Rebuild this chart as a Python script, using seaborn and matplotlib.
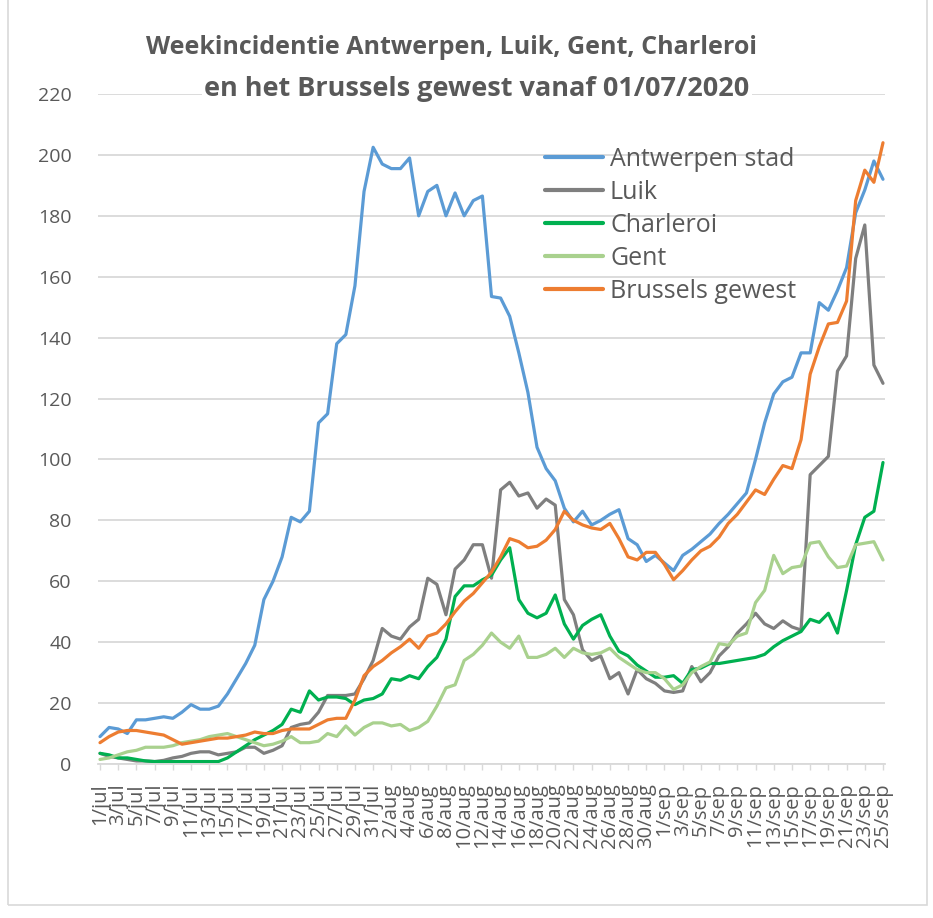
import pandas as pd
import matplotlib
matplotlib.use("Agg")
import matplotlib.pyplot as plt
import matplotlib.patches as mpatches
import seaborn as sns

# Weekincidentie per dag, 1/jul t/m 25/sep 2020 (87 dagen)
antwerpen = [9, 12, 11.5, 10, 14.5, 14.5, 15, 15.5, 15, 17,
             19.5, 18, 18, 19, 23, 28, 33, 39, 54, 60,
             68, 81, 79.5, 83, 112, 115, 138, 141, 157, 188,
             202.5, 197, 195.5, 195.5, 199, 180, 188, 190, 180, 187.5,
             180, 185, 186.5, 153.5, 153, 147, 135, 122, 104, 97,
             93, 84, 79.5, 83, 78.5, 80, 82, 83.5, 74, 72,
             66.5, 68.5, 66, 63.5, 68.5, 70.5, 73, 75.5, 79, 82,
             85.5, 89, 100, 112, 121.5, 125.5, 127, 135, 135, 151.5,
             149, 155.5, 163, 181, 188.5, 198, 192]
luik = [3.5, 2.5, 2, 1.5, 1, 1, 0.8, 1.2, 2, 2.5,
        3.5, 4, 4, 3, 3.5, 4, 5.5, 5.5, 3.5, 4.5,
        6, 12, 13, 13.5, 17, 22.5, 22.5, 22.5, 23, 28,
        34, 44.5, 42, 41, 45, 47.5, 61, 59, 49, 64,
        67, 72, 72, 61, 90, 92.5, 88, 89, 84, 87,
        85, 54, 49, 37.5, 34, 35.5, 28, 30, 23, 31,
        28, 26.5, 24, 23.5, 24, 32, 27, 30, 35.5, 38.5,
        43, 46, 49.5, 46, 44.5, 47, 45, 44, 95, 98,
        101, 129, 134, 166, 177, 131, 125]
charleroi = [3.5, 3, 2, 2, 1.5, 1, 0.8, 0.8, 0.8, 0.8,
             0.8, 0.8, 0.8, 0.8, 2, 4, 6, 8, 9.5, 11,
             13, 18, 17, 24, 21, 22, 22, 21.5, 19.5, 21,
             21.5, 23, 28, 27.5, 29, 28, 32, 35, 41, 55,
             58.5, 58.5, 60.5, 62, 67, 71, 54, 49.5, 48, 49.5,
             55.5, 46, 41, 45.5, 47.5, 49, 42, 37, 35.5, 32.5,
             30.5, 28.5, 28.5, 29, 26.5, 31, 31.5, 33, 33, 33.5,
             34, 34.5, 35, 36, 38.5, 40.5, 42, 43.5, 47.5, 46.5,
             49.5, 43, 57, 72, 81, 83, 99]
gent = [1.5, 2, 3, 4, 4.5, 5.5, 5.5, 5.5, 6, 7,
        7.5, 8, 9, 9.5, 10, 9, 8, 7, 6, 6.5,
        7.5, 9, 7, 7, 7.5, 10, 9, 12.5, 9.5, 12,
        13.5, 13.5, 12.5, 13, 11, 12, 14, 19, 25, 26,
        34, 36, 39, 43, 40, 38, 42, 35, 35, 36,
        38, 35, 38, 36.5, 36, 36.5, 38, 35, 33, 31,
        30, 30, 28, 24.5, 26, 30, 32, 33.5, 39.5, 39,
        42, 43, 53, 57, 68.5, 62.5, 64.5, 65, 72.5, 73,
        68, 64.5, 65, 72, 72.5, 73, 67]
brussel = [7, 9, 10.5, 11, 11, 10.5, 10, 9.5, 8, 6.5,
           7, 7.5, 8, 8.5, 8.5, 9, 9.5, 10.5, 10, 10,
           11, 11.5, 11.5, 11.5, 13, 14.5, 15, 15, 21, 29,
           32, 34, 36.5, 38.5, 41, 38, 42, 43, 46, 50,
           53.5, 56, 59.5, 63, 68, 74, 73, 71, 71.5, 73.5,
           77, 83, 80, 78.5, 77.5, 77, 79, 74, 68, 67,
           69.5, 69.5, 65.5, 60.5, 63.5, 67, 70, 71.5, 74.5, 79,
           82, 86, 90, 88.5, 93.5, 98, 97, 106.5, 128, 137,
           144.5, 145, 152, 185, 195, 191, 204]

reeksen = ["Antwerpen stad", "Luik", "Charleroi", "Gent", "Brussels gewest"]
kleuren = ["#5b9bd5", "#7f7f7f", "#00b050", "#a9d18e", "#ed7d31"]

tick_labels = ["1/jul", "3/jul", "5/jul", "7/jul", "9/jul", "11/jul", "13/jul", "15/jul",
               "17/jul", "19/jul", "21/jul", "23/jul", "25/jul", "27/jul", "29/jul", "31/jul",
               "2/aug", "4/aug", "6/aug", "8/aug", "10/aug", "12/aug", "14/aug", "16/aug",
               "18/aug", "20/aug", "22/aug", "24/aug", "26/aug", "28/aug", "30/aug",
               "1/sep", "3/sep", "5/sep", "7/sep", "9/sep", "11/sep", "13/sep", "15/sep",
               "17/sep", "19/sep", "21/sep", "23/sep", "25/sep"]

# long format for seaborn
waarden = [antwerpen, luik, charleroi, gent, brussel]
rows = []
for naam, vals in zip(reeksen, waarden):
    for dag, v in enumerate(vals):
        rows.append([naam, dag, v])
df = pd.DataFrame(rows, columns=["reeks", "dag", "incidentie"])

sns.set_theme(style="white")
plt.rcParams['font.family'] = ['Open Sans', 'DejaVu Sans']

W, H = 933, 918
fig = plt.figure(figsize=(W / 100, H / 100), dpi=100)
ax = fig.add_axes([98 / W, 1 - 764 / H, (885 - 98) / W, (764 - 94) / H])

sns.lineplot(data=df, x="dag", y="incidentie", hue="reeks", hue_order=reeksen,
             palette=dict(zip(reeksen, kleuren)), linewidth=2.3, ax=ax, legend=False)

grijs = "#595959"
ax.set_ylim(0, 220)
ax.set_xlim(-0.22, 86.22)
ax.set_yticks(range(0, 221, 20))
ax.yaxis.grid(True, color="#d9d9d9", linewidth=1.3)
ax.set_axisbelow(True)
for s in ["top", "right", "left"]:
    ax.spines[s].set_visible(False)
ax.spines["bottom"].set_color("#d9d9d9")
ax.spines["bottom"].set_linewidth(1.3)
ax.set_xticks(range(0, 87, 2))
ax.set_xticklabels(tick_labels, rotation=90, fontsize=14.5, color=grijs)
ax.tick_params(axis="x", length=4, width=1, color="#d9d9d9", pad=10, bottom=True)
ax.tick_params(axis="y", length=0, pad=19, labelsize=14, labelcolor=grijs)
ax.set_xlabel("")
ax.set_ylabel("")

# title, two centered lines over a white box
fig.text(451 / W, 1 - 48 / H, "Weekincidentie Antwerpen, Luik, Gent, Charleroi",
         ha="center", va="center", fontsize=18, fontweight="bold", color=grijs)
fig.text(477 / W, 1 - 89 / H, "en het Brussels gewest vanaf 01/07/2020",
         ha="center", va="center", fontsize=19.5, fontweight="bold", color=grijs,
         bbox=dict(facecolor="white", edgecolor="none", pad=2))

handles = [plt.Line2D([], [], color=c, linewidth=3) for c in kleuren]
leg = ax.legend(handles, reeksen, loc="upper left", bbox_to_anchor=(545 / W, 1 - 147 / H),
                bbox_transform=fig.transFigure, frameon=False, fontsize=18,
                handlelength=2.3, handletextpad=0.3, labelspacing=0.32,
                borderpad=0, borderaxespad=0)
for t in leg.get_texts():
    t.set_color(grijs)

# light chart border
fig.patches.append(mpatches.Rectangle((8 / W, 13 / H), (927 - 8) / W, 1.0,
                                      transform=fig.transFigure, fill=False,
                                      edgecolor="#d9d9d9", linewidth=1.2))

fig.savefig("out.png", dpi=100)
